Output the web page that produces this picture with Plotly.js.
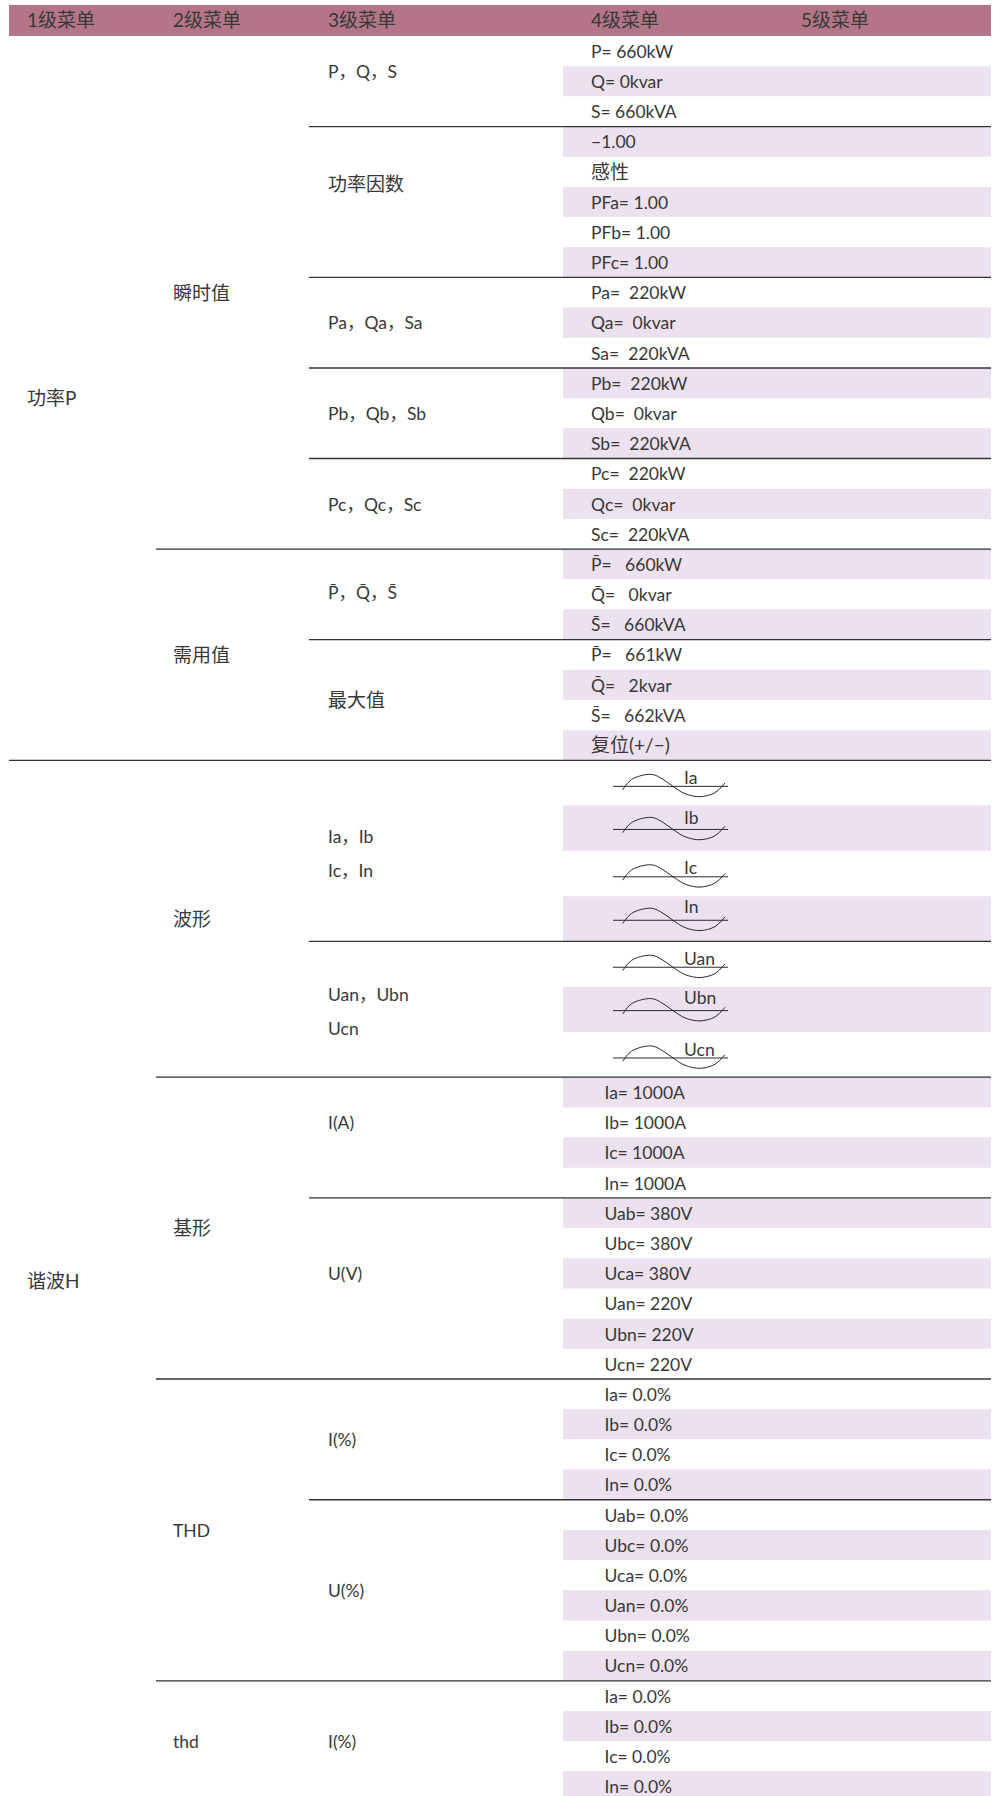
<!DOCTYPE html>
<html><head><meta charset="utf-8">
<script src="https://cdn.plot.ly/plotly-3.0.1.min.js"></script>
<style>html,body{margin:0;padding:0;background:#fff;width:995px;height:1796px;overflow:hidden}#chart{display:block;overflow:hidden}</style>
</head><body><div id="chart" style="width:995px;height:1796px"></div>
<script>
// ---------- data ----------
const headerLabels = ["1级菜单","2级菜单","3级菜单","4级菜单","5级菜单"];
const level1Labels = ["功率P","谐波H"];
const level1Spans  = [2,4];               // level-2 groups per level-1 entry
const level2Labels = ["瞬时值","需用值","波形","基形","THD","thd"];
const level2Spans  = [5,2,2,2,2,1];       // level-3 sections per level-2 entry
const level3Labels = [["P，Q，S"],["功率因数"],["Pa，Qa，Sa"],["Pb，Qb，Sb"],["Pc，Qc，Sc"],
  ["P\u0304，Q\u0304，S\u0304"],["最大值"],["Ia，Ib","Ic，In"],["Uan，Ubn","Ucn"],
  ["I(A)"],["U(V)"],["I(%)"],["U(%)"],["I(%)"]];
const level3Spans  = [3,5,3,3,3,3,4,4,3,4,6,4,6,4];  // rows per section
const level4Labels = ["P= 660kW","Q= 0kvar","S= 660kVA",
  "−1.00","感性","PFa= 1.00","PFb= 1.00","PFc= 1.00",
  "Pa=\u00a0\u00a0220kW","Qa=\u00a0\u00a00kvar","Sa=\u00a0\u00a0220kVA",
  "Pb=\u00a0\u00a0220kW","Qb=\u00a0\u00a00kvar","Sb=\u00a0\u00a0220kVA",
  "Pc=\u00a0\u00a0220kW","Qc=\u00a0\u00a00kvar","Sc=\u00a0\u00a0220kVA",
  "P\u0304=\u00a0\u00a0\u00a0660kW","Q\u0304=\u00a0\u00a0\u00a00kvar","S\u0304=\u00a0\u00a0\u00a0660kVA",
  "P\u0304=\u00a0\u00a0\u00a0661kW","Q\u0304=\u00a0\u00a0\u00a02kvar","S\u0304=\u00a0\u00a0\u00a0662kVA","复位(+/−)",
  "Ia","Ib","Ic","In","Uan","Ubn","Ucn",
  "Ia= 1000A","Ib= 1000A","Ic= 1000A","In= 1000A",
  "Uab= 380V","Ubc= 380V","Uca= 380V","Uan= 220V","Ubn= 220V","Ucn= 220V",
  "Ia= 0.0%","Ib= 0.0%","Ic= 0.0%","In= 0.0%",
  "Uab= 0.0%","Ubc= 0.0%","Uca= 0.0%","Uan= 0.0%","Ubn= 0.0%","Ucn= 0.0%",
  "Ia= 0.0%","Ib= 0.0%","Ic= 0.0%","In= 0.0%"];
const level4Shaded = [0,1,0,1,0,1,0,1,0,1,0,1,0,1,0,1,0,1,0,1,0,1,0,1,
  0,1,0,1,0,1,0,
  1,0,1,0,1,0,1,0,1,0,
  0,1,0,1,0,1,0,1,0,1,
  0,1,0,1];
const waveRows = [24,25,26,27,28,29,30];
// wave glyph: px along the row, px above(-)/below(+) its axis
const waveGlyphX = [622.7,631.7,651.7,663,673,685,700,715,725];
const waveGlyphY = [3.3,-7,-12,-7,0,7.3,10.3,6.3,-3.3];

// ---------- layout parameters ----------
const ROW_PX = 30.18, TOP_PX = 36, W = 995, H = 1796;
const WAVE_ROW = 1.5;
const colX = {l1:27, l2:173, l3:328, l4:591, l4b:604.5, l5:801, head:[27,173,328,591,801]};
const ruleX = {l1:9, l2:156, l3:309, right:991};
const bandLeft = 563;
const level3Nudge = [-0.33,-0.6,0,0,0,-0.07,0,0.07,0.07,-0.5,-0.5,0,0,0];
const level3Pitch = 1.13;
const waveAxisNudge = [3.4,1.2,3.3,1.5,3.2,1.3,3.4];
const waveLabelLift = [9,12.3,9.6,13.7,9,13.3,9];
const waveAxisX = [613,728], waveLabelX = 684;
const TEXT_DROP = 2.4;
const FONT = "Lato, 'Noto Sans CJK SC', sans-serif";
const TEXT = "#383838", RULE = "#333333", BAND = "#ece1ef", HEAD = "#b47588";

// ---------- derived positions ----------
const heights = level4Labels.map((_,i)=>waveRows.includes(i)?WAVE_ROW:1);
const edge = [0]; heights.forEach(h=>edge.push(edge[edge.length-1]+h));
const toUnits = px => px/ROW_PX;

const sec3 = []; { let r=0; level3Spans.forEach(s=>{sec3.push([edge[r],edge[r+s]]); r+=s;}); }
const sec2 = []; { let k=0; level2Spans.forEach(s=>{sec2.push([sec3[k][0],sec3[k+s-1][1]]); k+=s;}); }
const sec1 = []; { let k=0; level1Spans.forEach(s=>{sec1.push([sec2[k][0],sec2[k+s-1][1]]); k+=s;}); }
const mid = a => (a[0]+a[1])/2;

const hasCJK = s => /[\u4e00-\u9fff]/.test(s);
function textTrace(xs, ys, labels){
  return {type:"scatter", mode:"text", x:xs, y:ys.map(v=>v+toUnits(TEXT_DROP)), text:labels, textposition:"middle right",
    textfont:{family:FONT, color:TEXT, size:labels.map(s=>hasCJK(s)?19:17.5)},
    hoverinfo:"skip", cliponaxis:false, showlegend:false};
}

// bars
const bandIdx = level4Shaded.map((v,i)=>v?i:-1).filter(i=>i>=0);
const bands = {type:"bar", orientation:"h", base:bandIdx.map(()=>bandLeft),
  x:bandIdx.map(()=>ruleX.right-bandLeft), y:bandIdx.map(i=>(edge[i]+edge[i+1])/2),
  width:bandIdx.map(i=>heights[i]), marker:{color:BAND,line:{width:0}},
  hoverinfo:"skip", showlegend:false};
const headBar = {type:"bar", orientation:"h", base:[ruleX.l1], x:[ruleX.right-ruleX.l1],
  y:[-toUnits(15.5)], width:[toUnits(31)], marker:{color:HEAD,line:{width:0}},
  hoverinfo:"skip", showlegend:false};

// rules
const rx=[], ry=[];
sec3.forEach(s=>{
  const e=s[1];
  if(e>=edge[edge.length-1]) return;
  let left=ruleX.l3;
  if(sec2.some(g=>g[1]===e)) left=ruleX.l2;
  if(sec1.some(g=>g[1]===e)) left=ruleX.l1;
  rx.push(left,ruleX.right,null); ry.push(e,e,null);
});
const rules={type:"scatter",mode:"lines",x:rx,y:ry,line:{color:RULE,width:1.3},hoverinfo:"skip",showlegend:false};

// wave glyphs
const ax=[],ay=[],wtraces=[],wx=[],wy=[],wl=[];
waveRows.forEach((r,i)=>{
  const c=(edge[r]+edge[r+1])/2+toUnits(waveAxisNudge[i]);
  ax.push(waveAxisX[0],waveAxisX[1],null); ay.push(c,c,null);
  wtraces.push({type:"scatter",mode:"lines",x:waveGlyphX,y:waveGlyphY.map(d=>c+toUnits(d)),
    line:{color:"#2a2a2a",width:1,shape:"spline",smoothing:1},hoverinfo:"skip",showlegend:false});
  wx.push(waveLabelX); wy.push(c-toUnits(waveLabelLift[i])); wl.push(level4Labels[r]);
});
const waveAxis={type:"scatter",mode:"lines",x:ax,y:ay,line:{color:"#2a2a2a",width:1},hoverinfo:"skip",showlegend:false};

// text
const l3x=[],l3y=[],l3t=[];
level3Labels.forEach((lines,i)=>{
  const c=mid(sec3[i])+level3Nudge[i];
  lines.forEach((t,j)=>{l3x.push(colX.l3); l3y.push(c+(j-(lines.length-1)/2)*level3Pitch); l3t.push(t);});
});
const firstPlainAfterWave = waveRows[waveRows.length-1]+1;
const l4idx = level4Labels.map((_,i)=>i).filter(i=>!waveRows.includes(i));

const traces=[bands,headBar,rules,waveAxis,...wtraces,
  textTrace(colX.head,headerLabels.map(()=>-toUnits(16)),headerLabels),
  textTrace(level1Labels.map(()=>colX.l1),sec1.map(mid),level1Labels),
  textTrace(level2Labels.map(()=>colX.l2),sec2.map(mid),level2Labels),
  textTrace(l3x,l3y,l3t),
  textTrace(l4idx.map(i=>i>=firstPlainAfterWave?colX.l4b:colX.l4),
            l4idx.map(i=>(edge[i]+edge[i+1])/2),l4idx.map(i=>level4Labels[i])),
  textTrace(wx,wy,wl)
];

const layout={width:W,height:H,autosize:false,margin:{l:0,r:0,t:0,b:0,pad:0},
  paper_bgcolor:"#fff",plot_bgcolor:"#fff",barmode:"overlay",showlegend:false,
  xaxis:{range:[0,W],visible:false,fixedrange:true},
  yaxis:{range:[toUnits(H-TOP_PX),-toUnits(TOP_PX)],visible:false,fixedrange:true}};
Plotly.newPlot("chart",traces,layout,{displayModeBar:false,staticPlot:true});
</script></body></html>
